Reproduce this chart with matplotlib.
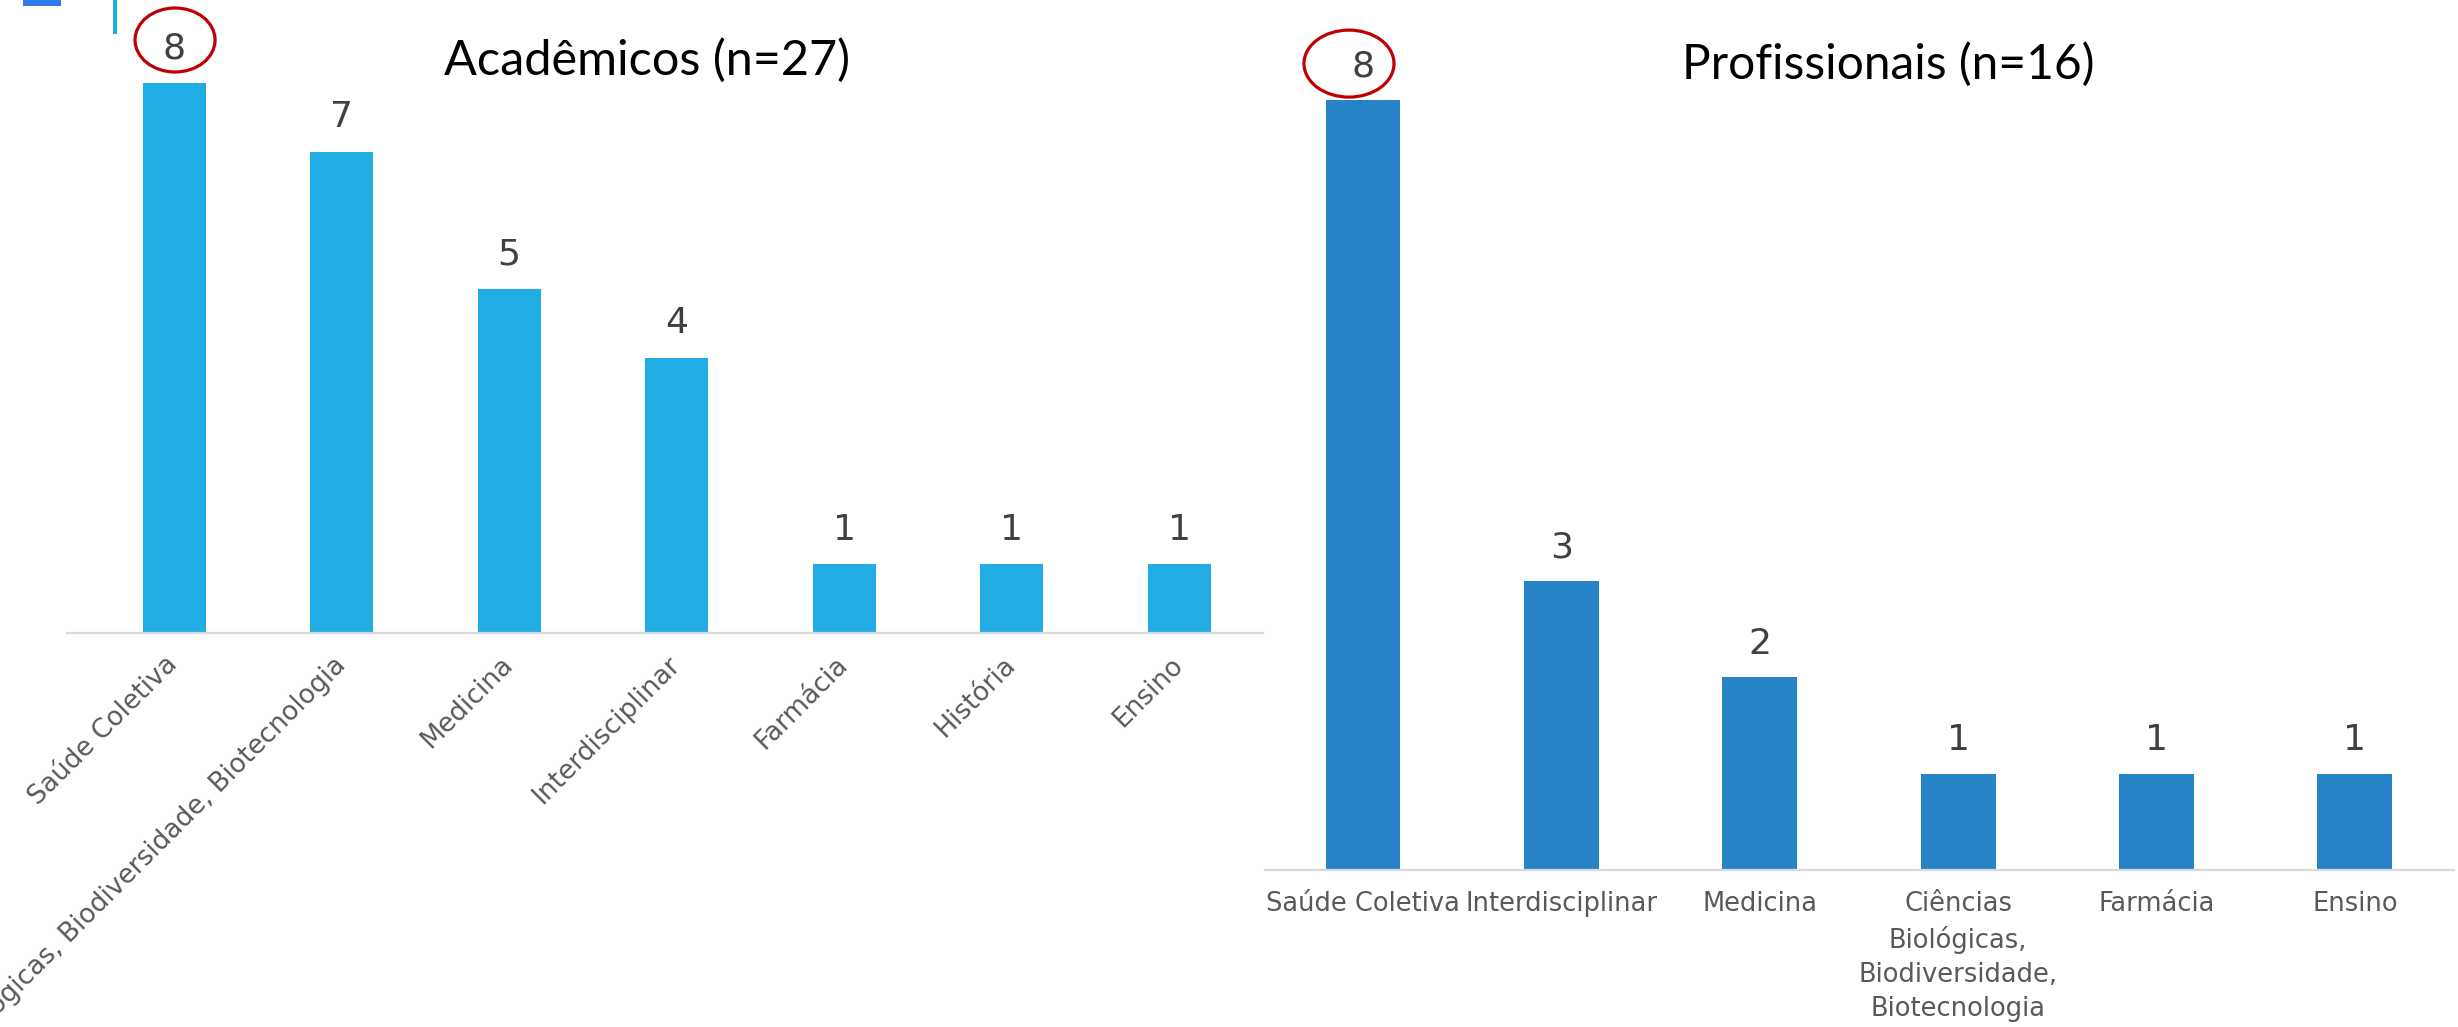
import matplotlib
matplotlib.use("Agg")
import matplotlib.pyplot as plt
from matplotlib.patches import Ellipse, Rectangle
from matplotlib.transforms import ScaledTranslation

# dados
acad_cats = ["Saúde Coletiva", "Ciências Biológicas, Biodiversidade, Biotecnologia",
             "Medicina", "Interdisciplinar", "Farmácia", "História", "Ensino"]
acad_vals = [8, 7, 5, 4, 1, 1, 1]
prof_cats = ["Saúde Coletiva", "Interdisciplinar", "Medicina",
             "Ciências\nBiológicas,\nBiodiversidade,\nBiotecnologia", "Farmácia", "Ensino"]
prof_vals = [8, 3, 2, 1, 1, 1]
acad_title = "Acadêmicos (n=27)"
prof_title = "Profissionais (n=16)"

W, H = 2458, 1027
DPI = 100
fig = plt.figure(figsize=(W / DPI, H / DPI), dpi=DPI)
fig.patch.set_facecolor("white")

label_font = "DejaVu Sans"
title_font = "Lato"
tick_col = "#595959"
num_col = "#404040"


def px_axes(left, right, base, top):
    # box in pixels (from top-left) -> figure fraction
    return fig.add_axes([left / W, (H - base) / H, (right - left) / W, (base - top) / H])


def style_ax(ax):
    for s in ["top", "right", "left"]:
        ax.spines[s].set_visible(False)
    ax.spines["bottom"].set_color("#D9D9D9")
    ax.spines["bottom"].set_linewidth(1.6)
    ax.set_yticks([])
    ax.tick_params(axis="x", length=0, colors=tick_col)
    ax.set_facecolor("none")


# ---- Academicos ----
ax1 = px_axes(67, 1263, 633, 10)
style_ax(ax1)
x1 = list(range(len(acad_vals)))
ax1.bar(x1, acad_vals, width=0.376, color="#1FADE4", zorder=2)
ax1.set_xlim(-0.639, 6.5)
ax1.set_ylim(0, 623 / 68.75)
ax1.set_xticks(x1)
ax1.set_xticklabels(acad_cats, rotation=45, ha="right", va="center",
                    rotation_mode="anchor", fontsize=19, family=label_font)
ax1.tick_params(axis="x", pad=20)
for xi, v in zip(x1, acad_vals):
    ax1.annotate(str(v), (xi, v), xytext=(0, 25), textcoords="offset points",
                 ha="center", va="center", fontsize=26, color=num_col, family=label_font)
ax1.add_patch(Ellipse((1, 43), 80, 64, transform=ScaledTranslation(0, acad_vals[0], ax1.transData),
                      fill=False, ec="#C00000", lw=2.3, clip_on=False, zorder=5))

# ---- Profissionais ----
ax2 = px_axes(1265, 2454, 870, 10)
style_ax(ax2)
x2 = list(range(len(prof_vals)))
ax2.bar(x2, prof_vals, width=0.378, color="#2683C6", zorder=2)
ax2.set_xlim(-0.494, 5.5)
ax2.set_ylim(0, 860 / 96.3)
ax2.set_xticks(x2)
ax2.set_xticklabels(prof_cats, ha="center", va="top", fontsize=18.5,
                    family=label_font, linespacing=1.4)
ax2.tick_params(axis="x", pad=15)
for xi, v in zip(x2, prof_vals):
    ax2.annotate(str(v), (xi, v), xytext=(0, 24), textcoords="offset points",
                 ha="center", va="center", fontsize=26, color=num_col, family=label_font)
ax2.add_patch(Ellipse((-14, 36), 90, 67, transform=ScaledTranslation(0, prof_vals[0], ax2.transData),
                      fill=False, ec="#C00000", lw=2.3, clip_on=False, zorder=5))

# titulos
fig.text(647 / W, 1 - 75 / H, acad_title, ha="center", va="baseline",
         fontsize=35, family=title_font, color="black")
fig.text(1888 / W, 1 - 79 / H, prof_title, ha="center", va="baseline",
         fontsize=34.5, family=title_font, color="black")

# restos do slide no canto
fig.add_artist(Rectangle((23 / W, 1 - 6 / H), 38 / W, 6 / H, transform=fig.transFigure,
                         color="#2F7BEA", lw=0))
fig.add_artist(Rectangle((113 / W, 1 - 34 / H), 4 / W, 34 / H, transform=fig.transFigure,
                         color="#1FADE4", lw=0))

fig.savefig("out.png", dpi=DPI, facecolor="white")
